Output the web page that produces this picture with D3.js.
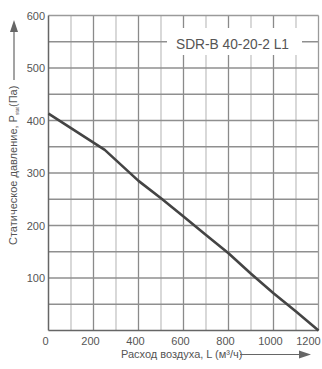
<!DOCTYPE html>
<html><head><meta charset="utf-8">
<script src="https://cdn.jsdelivr.net/npm/d3@7"></script>
<style>
html,body{margin:0;padding:0;background:#fff;}
svg{display:block;}
text{font-family:"Liberation Sans",Arial,sans-serif;}
</style></head>
<body>
<script>
const flow = [0, 250, 400, 500, 600, 700, 800, 900, 1000, 1100, 1200];
const pressure = [413, 344, 285, 252, 217, 182, 147, 108, 71, 36, 0];
const xTicks = [0, 200, 400, 600, 800, 1000, 1200];
const yTicks = [100, 200, 300, 400, 500, 600];
const title = "SDR-B 40-20-2 L1";
const xLabel = "Расход воздуха, L (м³/ч)";

const W = 322, H = 369;
const svg = d3.select("body").append("svg").attr("width", W).attr("height", H);
const x = d3.scaleLinear().domain([0, 1200]).range([48.5, 318.5]);
const y = d3.scaleLinear().domain([0, 600]).range([330.5, 15.5]);

// minor vertical grid (odd hundreds)
const g = svg.append("g");
g.selectAll(".vm").data(d3.range(100, 1200, 200)).enter().append("line")
  .attr("x1", d => x(d)).attr("x2", d => x(d)).attr("y1", y(0)).attr("y2", y(600))
  .attr("stroke", "#c4c4c4").attr("stroke-width", 1.3);
// major vertical
g.selectAll(".vM").data(d3.range(200, 1200, 200)).enter().append("line")
  .attr("x1", d => x(d)).attr("x2", d => x(d)).attr("y1", y(0)).attr("y2", y(600))
  .attr("stroke", "#8a8a8a").attr("stroke-width", 1.3);
// horizontal
g.selectAll(".h").data(d3.range(50, 600, 50)).enter().append("line")
  .attr("x1", x(0)).attr("x2", x(1200)).attr("y1", d => y(d)).attr("y2", d => y(d))
  .attr("stroke", "#8f8f8f").attr("stroke-width", 1.3);
// frame top/right
g.append("line").attr("x1", x(0)).attr("x2", x(1200)).attr("y1", y(600)).attr("y2", y(600))
  .attr("stroke", "#9a9a9a").attr("stroke-width", 1.3);
g.append("line").attr("x1", x(1200)).attr("x2", x(1200)).attr("y1", y(0)).attr("y2", y(600))
  .attr("stroke", "#9a9a9a").attr("stroke-width", 1.3);

// title box
const tb = svg.append("g");
tb.append("rect").attr("x", 167).attr("y", 28).attr("width", 135).attr("height", 27).attr("fill", "#fff");
tb.append("text").attr("x", 176).attr("y", 48.5).text(title)
  .attr("font-family", "'Open Sans', sans-serif").attr("font-size", 14.5)
  .attr("fill", "#555").attr("textLength", 113).attr("lengthAdjust", "spacingAndGlyphs");

// axes lines
svg.append("line").attr("x1", x(0)).attr("x2", x(0)).attr("y1", y(0)).attr("y2", y(600))
  .attr("stroke", "#666").attr("stroke-width", 1.5);
svg.append("line").attr("x1", x(0)).attr("x2", x(1200)).attr("y1", y(0)).attr("y2", y(0))
  .attr("stroke", "#666").attr("stroke-width", 1.5);

// curve
const line = d3.line().x((d, i) => x(flow[i])).y(d => y(d));
svg.append("path").attr("d", line(pressure)).attr("fill", "none")
  .attr("stroke", "#444").attr("stroke-width", 2.6).attr("stroke-linejoin", "round");

// y tick labels
svg.selectAll(".yt").data(yTicks).enter().append("text")
  .attr("x", 45).attr("y", d => y(d) + 4).attr("text-anchor", "end")
  .attr("font-size", 11).attr("fill", "#555").text(d => d);
// x tick labels
svg.selectAll(".xt").data(xTicks).enter().append("text")
  .attr("x", d => d === 1200 ? x(d) - 10 : x(d) - 3).attr("y", 345).attr("text-anchor", "middle")
  .attr("font-size", 11).attr("fill", "#555").text(d => d);

// x label + arrow
svg.append("text").attr("x", 121).attr("y", 358).attr("font-size", 11).attr("fill", "#555").text(xLabel);
svg.append("line").attr("x1", 240).attr("x2", 303).attr("y1", 354.5).attr("y2", 354.5)
  .attr("stroke", "#666").attr("stroke-width", 1.2);
svg.append("path").attr("d", "M311,354.5 L299,350.5 L299,358.5 Z").attr("fill", "#666");

// y label + arrow
const yl = svg.append("text").attr("transform", "translate(17,245) rotate(-90)")
  .attr("font-size", 11).attr("fill", "#555");
yl.append("tspan").text("Статическое давление, P");
yl.append("tspan").attr("font-size", 5).attr("dy", 2).text("stat");
yl.append("tspan").attr("dy", -2).text("(Па)");
svg.append("line").attr("x1", 14).attr("x2", 14).attr("y1", 80).attr("y2", 28)
  .attr("stroke", "#666").attr("stroke-width", 1.2);
svg.append("path").attr("d", "M14,20 L10,32 L18,32 Z").attr("fill", "#666");
</script>
</body></html>
